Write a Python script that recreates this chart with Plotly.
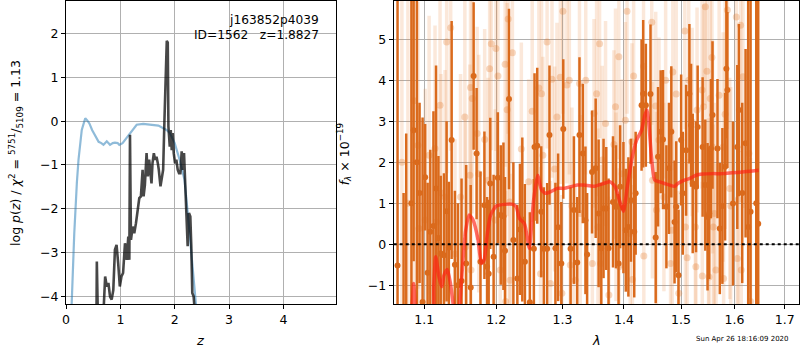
import math
import plotly.graph_objects as go

# ---------------- left panel: redshift PDF / chi2 ----------------
z_chi2 = [0.08, 0.10, 0.152, 0.20, 0.23, 0.29, 0.33, 0.354, 0.39, 0.43,
          0.48, 0.54, 0.60, 0.65, 0.69, 0.75, 0.81, 0.86, 0.90, 0.95,
          0.98, 1.04, 1.10, 1.18, 1.30, 1.42, 1.54, 1.62, 1.70, 1.79,
          1.85, 1.91, 2.00, 2.09, 2.18, 2.24, 2.30, 2.38, 2.42]
v_chi2 = [-5.0, -4.2, -2.56, -1.4, -0.88, -0.2, 0.0, 0.07, 0.02, -0.05,
          -0.2, -0.35, -0.47, -0.5, -0.54, -0.46, -0.54, -0.5, -0.49, -0.5,
          -0.54, -0.5, -0.4, -0.27, -0.08, -0.06, -0.08, -0.1, -0.1, -0.16,
          -0.2, -0.27, -0.5, -0.88, -1.34, -2.1, -3.02, -4.18, -4.6]

z_pz = [0.561, 0.567, 0.585, 0.689, 0.72, 0.75, 0.78, 0.81, 0.84, 0.87,
        0.90, 0.93, 0.96, 0.99, 1.02, 1.05, 1.085, 1.116, 1.146, 1.165,
        1.177, 1.195, 1.226, 1.256, 1.287, 1.317, 1.348, 1.378, 1.396, 1.409,
        1.427, 1.451, 1.482, 1.506, 1.53, 1.555, 1.573, 1.591, 1.616, 1.64,
        1.665, 1.689, 1.707, 1.738, 1.762, 1.787, 1.811, 1.835, 1.854, 1.872,
        1.884, 1.909, 1.927, 1.945, 1.963, 1.982, 2.006, 2.03, 2.055, 2.079,
        2.104, 2.128, 2.152, 2.171, 2.189, 2.213, 2.238, 2.262, 2.287, 2.305,
        2.323, 2.348, 2.372]
v_pz = [-4.39, -3.21, -4.39, -4.39, -3.55, -3.78, -3.70, -4.01, -4.08, -3.86,
        -2.94, -2.83, -3.25, -3.78, -3.55, -3.47, -2.79, -3.17, -2.64, -3.17,
        -0.31, -2.71, -2.41, -2.56, -2.33, -2.06, -1.76, -1.72, -1.26, -1.11,
        -1.72, -1.46, -0.73, -1.26, -0.88, -1.34, -1.42, -0.96, -0.73, -0.88,
        -0.81, -0.96, -1.11, -1.49, -1.26, -1.11, 0.03, 0.94, 1.84, 1.80,
        -0.12, -0.58, -0.2, -0.66, -0.27, -0.73, -0.96, -0.88, -1.11, -1.19,
        -1.19, -0.69, -1.11, -0.73, -1.34, -2.18, -2.86, -2.10, -2.18, -2.86,
        -3.93, -4.01, -4.39]

z_ticks = [0, 1, 2, 3, 4]
pz_ticks = [-4, -3, -2, -1, 0, 1, 2]

# ---------------- right panel: spectrum ----------------
dark_wave = [1.0652, 1.0730, 1.0764, 1.0832, 1.0861, 1.0904, 1.0939, 1.0979, 1.1013, 1.1046,
             1.1082, 1.1124, 1.1159, 1.1191, 1.1222, 1.1266, 1.1302, 1.1333, 1.1371, 1.1416,
             1.1457, 1.1508, 1.1572, 1.1636, 1.1677, 1.1719, 1.1774, 1.1830, 1.1868, 1.1891,
             1.1914, 1.1962, 1.2023, 1.2066, 1.2105, 1.2128, 1.2186, 1.2251, 1.2310, 1.2349,
             1.2384, 1.2423, 1.2497, 1.2558, 1.2568, 1.2609, 1.2670, 1.2710, 1.2761, 1.2797,
             1.2889, 1.2931, 1.2981, 1.3012, 1.3127, 1.3180, 1.3233, 1.3269, 1.3322, 1.3365,
             1.3392, 1.3472, 1.3531, 1.3579, 1.3623, 1.3660, 1.3705, 1.3743, 1.3817, 1.3867,
             1.3910, 1.3936, 1.3992, 1.4032, 1.4076, 1.4120, 1.4176, 1.4200, 1.4302, 1.4330,
             1.4376, 1.4457, 1.4548, 1.4589, 1.4636, 1.4677, 1.4737, 1.4783, 1.4825, 1.4883,
             1.4913, 1.4954, 1.5002, 1.5031, 1.5092, 1.5152, 1.5183, 1.5213, 1.5274, 1.5304,
             1.5396, 1.5446, 1.5488, 1.5519, 1.5551, 1.5581, 1.5675, 1.5719, 1.5768, 1.5819,
             1.5844, 1.5863, 1.5971, 1.6054, 1.6086, 1.6150, 1.6216, 1.6267, 1.6314, 1.6426,
             1.6465]
dark_flux = [-0.52, -1.8, -2.0, 1.0, 2.78, 2.0, 1.25, -1.41, 1.63, -0.7,
             0.3, 0.44, 1.36, 0.15, -0.23, -0.27, 0.8, -0.08, 2.54, -0.5,
             -1.0, -0.9, -0.47, -1.06, 4.1, 2.21, -0.43, 0.95, -0.55, -0.72,
             1.48, -0.31, 1.62, 0.71, 0.68, -0.16, 3.54, 0.1, -0.84, 0.36,
             0.6, -0.43, -1.42, -0.11, 2.37, 2.4, 0.79, -0.11, -0.11, 2.66,
             -0.1, 0.41, -0.47, 2.81, -0.11, 0.83, -0.45, 2.66, 2.21, 0.58,
             -0.25, 1.76, 1.85, 0.75, -0.1, 0.87, 0.87, -0.1, 1.03, 0.91,
             -0.47, 1.4, 0.89, 0.34, 0.42, 1.07, 0.3, 1.24, 3.39, 3.67,
             3.39, 3.66, 0.16, 2.13, 2.74, 2.55, 0.91, 1.85, 2.74, 0.54,
             0.91, -0.76, 2.54, 1.24, 2.29, 3.67, 2.9, 1.48, 1.4, 2.86,
             2.37, 1.44, 0.67, 0.75, 2.33, 3.15, 2.33, 0.38, 0.93, 1.89,
             4.28, 3.76, 0.99, 2.37, 3.27, 1.25, 2.46, 0.42, 0.79, 1.0,
             0.5]
dark_err = [9, 3.05, 4.7, 7, 3.2, 5, 2.2, 4.5, 1.3, 2.2,
            2.0, 2.8, 3.0, 2.0, 1.9, 2.0, 2.2, 1.6, 2.9, 1.8,
            2.0, 2.5, 2.4, 2.5, 1.8, 1.6, 2.2, 1.8, 1.7, 1.8,
            1.6, 2.0, 1.6, 1.7, 1.8, 1.8, 2.2, 1.9, 1.8, 1.6,
            2.0, 1.9, 2.2, 1.7, 1.8, 1.9, 1.6, 1.5, 1.6, 1.7,
            1.6, 1.8, 1.5, 1.7, 1.5, 1.8, 1.6, 1.9, 1.7, 1.8,
            1.5, 1.5, 1.7, 1.8, 1.6, 1.7, 1.5, 1.7, 1.6, 1.5,
            1.7, 1.5, 1.6, 1.5, 1.7, 1.5, 1.6, 1.5, 1.6, 1.8,
            1.5, 1.7, 1.6, 1.7, 1.5, 1.7, 1.5, 1.6, 1.6, 1.5,
            1.6, 1.6, 1.6, 1.5, 1.6, 1.7, 1.5, 1.7, 1.6, 1.5,
            1.7, 1.6, 1.8, 1.6, 1.7, 1.8, 1.7, 1.6, 1.9, 1.8,
            1.7, 1.9, 2.0, 2.0, 2.1, 2.2, 2.3, 8, 8, 10,
            10]

light_wave = [1.0708, 1.0786, 1.0865, 1.0918, 1.0931, 1.1013, 1.1066, 1.1145, 1.1168, 1.1213,
              1.1226, 1.1281, 1.1303, 1.1358, 1.1417, 1.1494, 1.1554, 1.1564, 1.1624, 1.1633,
              1.1640, 1.1657, 1.1727, 1.1749, 1.1834, 1.1882, 1.1905, 1.1929, 1.1986, 1.1996,
              1.2025, 1.2058, 1.2130, 1.2137, 1.2159, 1.2174, 1.2198, 1.2203, 1.2237, 1.2369,
              1.2479, 1.2533, 1.2634, 1.2659, 1.2675, 1.2695, 1.2760, 1.2811, 1.2836, 1.2877,
              1.2913, 1.2965, 1.2990, 1.3006, 1.3069, 1.3107, 1.3122, 1.3148, 1.3201, 1.3269,
              1.3281, 1.3370, 1.3477, 1.3504, 1.3546, 1.3569, 1.3595, 1.3611, 1.3639, 1.3693,
              1.3749, 1.3832, 1.3859, 1.3867, 1.3915, 1.3920, 1.3970, 1.4025, 1.4053, 1.4108,
              1.4137, 1.4145, 1.4165, 1.4336, 1.4341, 1.4479, 1.4491, 1.4548, 1.4561, 1.4606,
              1.4693, 1.4723, 1.4811, 1.4841, 1.4852, 1.4913, 1.4959, 1.5068, 1.5080, 1.5111,
              1.5140, 1.5202, 1.5262, 1.5271, 1.5293, 1.5386, 1.5390, 1.5414, 1.5446, 1.5477,
              1.5507, 1.5516, 1.5538, 1.5570, 1.5582, 1.5595, 1.5614, 1.5646, 1.5706, 1.5782,
              1.5791, 1.5820, 1.5863, 1.5909, 1.5928, 1.6035, 1.6054, 1.6073, 1.6119, 1.6131,
              1.6164, 1.6280, 1.6313]
light_flux = [2.0, 1.0, 3.5, 2.41, 0.38, 0.59, 2.17, 2.33, 0.54, 3.39,
              1.25, 1.15, 4.93, 5.28, -0.24, 1.15, 3.1, -0.07, 1.68, 3.82,
              -0.63, 3.55, 2.7, 1.72, 2.55, 1.56, 4.28, 4.89, 0.59, 4.77,
              4.1, -0.63, 4.39, -1.4, 3.28, 5.49, 1.03, -0.88, 4.67, 2.32,
              1.52, 3.24, 3.81, -0.72, 3.67, 2.17, 4.93, -0.96, 4.02, 1.83,
              3.1, 4.07, -1.2, 5.68, 3.88, 4.0, -0.51, 0.93, -0.88, 3.92,
              0.75, 4.0, -0.47, 3.19, 3.67, 0.42, 4.89, -0.47, 2.05, 2.94,
              -1.24, 2.43, 3.35, 0.91, 4.57, -0.55, 1.72, 3.02, 5.68, 0.26,
              2.5, -0.86, 4.1, 4.34, -0.29, 5.41, 1.56, 3.37, 0.83, 2.54,
              1.15, 4.0, -0.47, 0.34, 4.2, 3.66, -1.2, 5.2, 0.42, -0.33,
              4.0, 2.98, 0.42, -0.55, 3.27, 3.76, -0.78, 3.35, 5.79, 4.22,
              0.67, -0.8, 3.55, 4.55, 2.37, 0.42, 0.75, -0.63, 3.63, 2.37,
              -0.84, 3.17, 5.71, 1.36, 0.93, 5.54, -0.35, 1.09, 5.34, -0.63,
              4.08, 2.21, -1.4]
light_err = [8, 7, 6, 3.5, 3.0, 3.2, 3.4, 3.0, 2.8, 3.3,
             2.9, 3.1, 3.2, 3.0, 2.8, 3.0, 2.9, 3.1, 2.7, 3.0,
             2.6, 2.8, 2.6, 2.9, 2.7, 2.5, 2.8, 2.6, 2.7, 2.5,
             2.8, 2.6, 2.5, 2.7, 2.6, 2.8, 2.5, 2.6, 2.7, 2.6,
             2.5, 2.7, 2.4, 2.6, 2.5, 2.4, 2.6, 2.5, 2.4, 2.5,
             2.3, 2.6, 2.4, 2.5, 2.4, 2.3, 2.5, 2.4, 2.3, 2.5,
             2.4, 2.3, 2.4, 2.3, 2.5, 2.4, 2.3, 2.4, 2.3, 2.5,
             2.4, 2.3, 2.4, 2.3, 2.5, 2.4, 2.3, 2.4, 2.5, 2.3,
             2.4, 2.3, 2.5, 2.4, 2.3, 2.5, 2.4, 2.3, 2.4, 2.5,
             2.3, 2.4, 2.3, 2.5, 2.4, 2.3, 2.5, 2.4, 2.3, 2.4,
             2.5, 2.3, 2.4, 2.3, 2.5, 2.4, 2.3, 2.5, 2.4, 2.6,
             2.4, 2.5, 2.6, 2.5, 2.6, 2.5, 2.7, 2.6, 2.7, 2.8,
             2.6, 2.8, 2.9, 2.7, 2.9, 3.0, 2.8, 3.0, 3.1, 2.9,
             3.2, 3.4, 3.5]

model_wave = [1.0774, 1.0839, 1.0861, 1.0882, 1.0917, 1.1102, 1.1129, 1.1155, 1.1199, 1.1236,
              1.1266, 1.1311, 1.1355, 1.1395, 1.1450, 1.1482, 1.1531, 1.1566, 1.1613, 1.1669,
              1.1740, 1.1787, 1.1825, 1.1872, 1.1919, 1.2001, 1.2120, 1.2243, 1.2292, 1.2341,
              1.2415, 1.2489, 1.2513, 1.2554, 1.2615, 1.2675, 1.2740, 1.2816, 1.2919, 1.3022,
              1.3127, 1.3233, 1.3338, 1.3499, 1.3661, 1.3770, 1.3853, 1.3925, 1.3992, 1.4058,
              1.4132, 1.4217, 1.4302, 1.4359, 1.4399, 1.4433, 1.4474, 1.4532, 1.4618, 1.4706,
              1.4794, 1.4883, 1.4942, 1.5062, 1.5152, 1.5274, 1.5396, 1.5581, 1.5768, 1.5958,
              1.6150, 1.6313, 1.6475]
model_flux = [-1.8, -1.49, -0.96, -1.5, -2.0, -2.0, -1.0, -0.31, -0.8, -1.04,
              -0.76, -0.62, -0.96, -1.5, -2.0, -1.49, -0.31, 0.34, 0.71, 0.59,
              0.1, -0.47, -0.39, 0.26, 0.71, 0.93, 0.97, 0.97, 0.91, 0.63,
              0.5, -0.1, 0.26, 1.07, 1.68, 1.32, 1.24, 1.28, 1.36, 1.36,
              1.4, 1.44, 1.44, 1.41, 1.48, 1.52, 1.4, 1.07, 0.8, 1.4,
              2.05, 2.54, 2.78, 3.15, 3.27, 2.86, 2.13, 1.56, 1.52, 1.48,
              1.44, 1.41, 1.48, 1.56, 1.6, 1.68, 1.71, 1.72, 1.72, 1.74,
              1.76, 1.78, 1.8]

wave_ticks = [1.1, 1.2, 1.3, 1.4, 1.5, 1.6, 1.7]
flux_ticks = [-1, 0, 1, 2, 3, 4, 5]

FONT = "DejaVu Sans"
DARK = "rgb(218,106,28)"
LIGHT_BAR = "rgba(235,140,70,0.2)"
LIGHT_DOT = "rgba(230,125,50,0.3)"

fig = go.Figure()

fig.add_trace(go.Scatter(x=z_chi2, y=v_chi2, mode="lines",
                         line=dict(color="rgba(31,119,180,0.5)", width=2.2),
                         xaxis="x", yaxis="y", showlegend=False))
fig.add_trace(go.Scatter(x=z_pz, y=v_pz, mode="lines",
                         line=dict(color="rgba(0,0,0,0.72)", width=2.6),
                         xaxis="x", yaxis="y", showlegend=False))

fig.add_trace(go.Scatter(x=light_wave, y=light_flux, mode="markers",
                         marker=dict(color=LIGHT_DOT, size=7),
                         error_y=dict(type="data", array=light_err, color=LIGHT_BAR,
                                      thickness=3.5, width=0),
                         xaxis="x2", yaxis="y2", showlegend=False))
fig.add_trace(go.Scatter(x=dark_wave, y=dark_flux, mode="markers",
                         marker=dict(color=DARK, size=6),
                         error_y=dict(type="data", array=dark_err, color=DARK,
                                      thickness=2.5, width=0),
                         xaxis="x2", yaxis="y2", showlegend=False))
fig.add_trace(go.Scatter(x=model_wave, y=model_flux, mode="lines",
                         line=dict(color="rgba(255,30,20,0.65)", width=3.5, shape="spline",
                                   smoothing=0.6),
                         xaxis="x2", yaxis="y2", showlegend=False))

axis_common = dict(showgrid=True, gridcolor="#b0b0b0", gridwidth=1,
                   showline=True, mirror=True, linecolor="black", linewidth=1,
                   ticks="outside", ticklen=4, tickcolor="black", zeroline=False,
                   tickfont=dict(family=FONT, size=12.5, color="black"))

fig.update_layout(
    width=800, height=350,
    margin=dict(l=0, r=0, t=0, b=0),
    paper_bgcolor="white", plot_bgcolor="white",
    font=dict(family=FONT, color="black"),
    xaxis=dict(domain=[0.0779, 0.4166], range=[0, 4.96], tickvals=z_ticks,
               anchor="y", **axis_common),
    yaxis=dict(domain=[0.1314, 0.9971], range=[-4.18, 2.75], tickvals=pz_ticks,
               anchor="x", **axis_common),
    xaxis2=dict(domain=[0.4896, 0.9991], type="log",
                range=[math.log10(1.0603), math.log10(1.7302)],
                tickvals=wave_ticks, ticktext=[f"{t:.1f}" for t in wave_ticks],
                anchor="y2", **axis_common),
    yaxis2=dict(domain=[0.1314, 0.9971], range=[-1.46, 5.93], tickvals=flux_ticks,
                anchor="x2", **axis_common),
)

fig.add_shape(type="line", xref="x2 domain", yref="y2", x0=0, x1=1, y0=0, y1=0,
              line=dict(color="black", width=2, dash="dot"))

NB = "\u00a0"
ann = [
    dict(text="j163852p4039", x=319 / 800, y=1 - 20 / 350, xanchor="right", yanchor="middle",
         font=dict(size=12.2)),
    dict(text=f"ID=1562{NB*3}z=1.8827", x=319 / 800, y=1 - 35 / 350, xanchor="right",
         yanchor="middle", font=dict(size=12.2)),
    dict(text="<i>z</i>", x=197 / 800, y=1 - 340 / 350, xanchor="center", yanchor="middle",
         font=dict(size=13)),
    dict(text="<i>λ</i>", x=595 / 800, y=1 - 340 / 350, xanchor="center", yanchor="middle",
         font=dict(size=13)),
    dict(text="log <i>p</i>(<i>z</i>) / <i>χ</i><sup>2</sup> = <sup>5751</sup>/<sub>5109</sub> = 1.13",
         x=12 / 800, y=1 - 153 / 350, xanchor="center", yanchor="middle", textangle=-90,
         font=dict(size=12.5)),
    dict(text="<i>f</i><sub><i>λ</i></sub> × 10<sup>−19</sup>",
         x=342 / 800, y=1 - 154 / 350, xanchor="center", yanchor="middle", textangle=-90,
         font=dict(size=12.5)),
    dict(text="Sun Apr 26 18:16:09 2020", x=742 / 800, y=1 - 339 / 350, xanchor="center",
         yanchor="middle", font=dict(size=7)),
]
for a in ann:
    a.update(xref="paper", yref="paper", showarrow=False)
    a["font"] = dict(family=FONT, color="black", **a["font"])
    fig.add_annotation(**a)

fig.write_html("out.html",
               config={"displayModeBar": False, "responsive": False},
               post_script="document.body.style.margin='0';document.body.style.padding='0';"
                           "document.documentElement.style.overflow='hidden';")
